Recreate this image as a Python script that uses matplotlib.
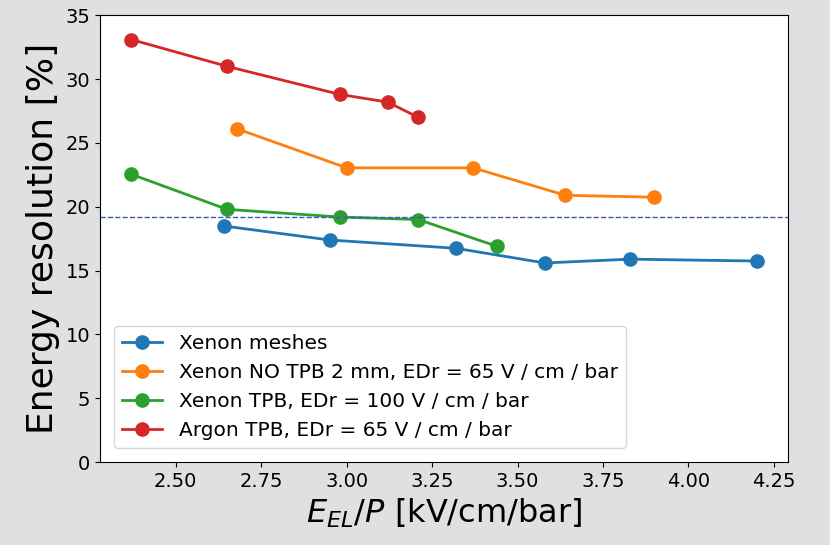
import matplotlib
matplotlib.use('Agg')
import matplotlib.pyplot as plt

# Xenon meshes
xe_mesh_x = [2.64, 2.95, 3.32, 3.58, 3.83, 4.20]
xe_mesh_y = [18.5, 17.4, 16.75, 15.6, 15.9, 15.75]

# Xenon NO TPB 2 mm
xe_notpb_x = [2.68, 3.00, 3.37, 3.64, 3.90]
xe_notpb_y = [26.1, 23.05, 23.05, 20.9, 20.75]

# Xenon TPB
xe_tpb_x = [2.37, 2.65, 2.98, 3.21, 3.44]
xe_tpb_y = [22.55, 19.8, 19.2, 19.0, 16.9]

# Argon TPB
ar_tpb_x = [2.37, 2.65, 2.98, 3.12, 3.21]
ar_tpb_y = [33.1, 31.0, 28.8, 28.2, 27.0]

ref_level = 19.2

labels = ['Xenon meshes',
          'Xenon NO TPB 2 mm, EDr = 65 V / cm / bar',
          'Xenon TPB, EDr = 100 V / cm / bar',
          'Argon TPB, EDr = 65 V / cm / bar']

fig = plt.figure(figsize=(8.3, 5.45), dpi=100, facecolor='#dfe0e1')
ax = fig.add_axes([0.1205, 0.152, 0.829, 0.82])

series = [(xe_mesh_x, xe_mesh_y), (xe_notpb_x, xe_notpb_y),
          (xe_tpb_x, xe_tpb_y), (ar_tpb_x, ar_tpb_y)]
for (x, y), lab in zip(series, labels):
    ax.plot(x, y, marker='o', markersize=9.5, linewidth=2, label=lab)

ax.axhline(ref_level, color='#3a56c8', linestyle='--', linewidth=1)

ax.set_ylim(0, 35)
ax.set_xticks([2.50, 2.75, 3.00, 3.25, 3.50, 3.75, 4.00, 4.25])
ax.tick_params(labelsize=14)
ax.set_xlabel('$E_{EL}/P$ [kV/cm/bar]', fontsize=23)
ax.set_ylabel('Energy resolution [%]', fontsize=26)
ax.legend(loc='lower left', fontsize=14.5, borderaxespad=0.7)

fig.savefig('out.png', dpi=100, facecolor=fig.get_facecolor())
